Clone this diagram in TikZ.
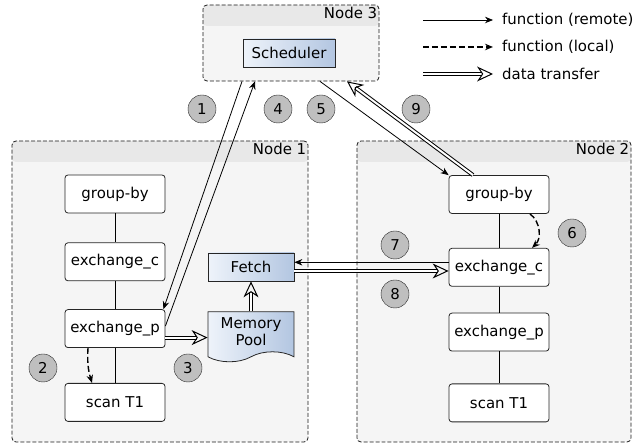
\documentclass[tikz,border=0pt]{standalone}
\usepackage{fontspec}
\setmainfont{DejaVu Sans}
\usetikzlibrary{positioning,arrows.meta,shapes.symbols}

\definecolor{bluelight}{HTML}{EEF3FA}
\definecolor{bluedark}{HTML}{B3C6E1}

\begin{document}
\begin{tikzpicture}[
    x=1bp, y=1bp,
    font=\fontsize{15}{17.5}\selectfont,
    container/.style={draw=black!90, dash pattern=on 4pt off 2pt, rounded corners=4pt, fill=black!4, line width=0.8pt,
        path picture={\fill[black!9] (path picture bounding box.north west) rectangle ([yshift=-21bp]path picture bounding box.north east);}},
    op/.style={rectangle, draw=black!85, fill=white, rounded corners=3pt, minimum width=100bp, minimum height=38bp, line width=0.8pt},
    service/.style={draw=black!85, left color=bluelight, right color=bluedark, line width=0.8pt},
    stepnum/.style={circle, draw=black!85, fill=black!25, minimum size=28bp, inner sep=0pt},
    remote/.style={-{Stealth[length=8pt,width=6.5pt]}, line width=0.8pt},
    local/.style={-{Stealth[length=8pt,width=6.5pt]}, dash pattern=on 6pt off 3pt, line width=1.4pt},
    data/.style={double, double distance=2bp, line width=1bp, -{Stealth[open,length=16pt,width=15pt,inset=5pt]}}
]
\useasboundingbox (0,0) rectangle (634,443);

% Machines
\node[container, minimum width=176bp, minimum height=76bp,
    label={[anchor=north east, inner sep=2pt]north east:Node 3}] (node3) at (291,400) {};
\node[container, minimum width=296bp, minimum height=301bp,
    label={[anchor=north east, inner sep=2pt]north east:Node 1}] (node1) at (160,151.5) {};
\node[container, minimum width=274bp, minimum height=301bp,
    label={[anchor=north east, inner sep=2pt]north east:Node 2}] (node2) at (494,151.5) {};

% Scheduler
\node[service, rectangle, minimum width=92bp, minimum height=28bp] (sched) at (289,390) {Scheduler};

% Plan on Node 1
\node[op] (gb1) at (115,249) {group-by};
\node[op, below=29bp of gb1] (ex1c) {exchange\_c};
\node[op, below=28bp of ex1c] (ex1p) {exchange\_p};
\node[op, below=35bp of ex1p] (scan1) {scan T1};

% Fetch and memory pool
\node[service, rectangle, minimum width=86bp, minimum height=28bp] (fetch) at (251,176) {Fetch};
\node[service, tape, tape bend top=none, tape bend bottom=in and out, tape bend height=10bp,
    minimum width=86bp, minimum height=50bp, align=center, inner sep=1pt, below=30bp of fetch] (pool) {Memory\\Pool};

% Plan on Node 2
\node[op] (gb2) at (499,248.5) {group-by};
\node[op, below=34bp of gb2] (ex2c) {exchange\_c};
\node[op, below=26bp of ex2c] (ex2p) {exchange\_p};
\node[op, below=32bp of ex2p] (scan2) {scan T1};

% Plan edges
\draw[line width=0.7pt] (gb1) -- (ex1c) (ex1c) -- (ex1p) (ex1p) -- (scan1);
\draw[line width=0.7pt] (gb2) -- (ex2c) (ex2c) -- (ex2p) (ex2p) -- (scan2);

% Steps
\node[stepnum] (s1) at (202,334) {1};
\node[stepnum] (s4) at (278,334) {4};
\node[stepnum] (s5) at (321,334) {5};
\node[stepnum] (s9) at (416,334) {9};
\node[stepnum] (s2) at (43,75) {2};
\node[stepnum] (s3) at (188,75) {3};
\node[stepnum] (s6) at (572,210) {6};
\node[stepnum] (s7) at (395,198) {7};
\node[stepnum] (s8) at (395,149) {8};

% Calls and transfers
\draw[remote] ([xshift=-49bp]node3.south) -- ([xshift=-2bp]ex1p.north east);
\draw[remote] ([yshift=2.5bp]ex1p.east) -- ([xshift=-36bp]node3.south);
\draw[local] ([xshift=-27bp]ex1p.south) to[bend right=10] ([xshift=-23bp]scan1.north);
\draw[data] ([yshift=-9bp]ex1p.east) -- ([yshift=-9bp]ex1p.east -| pool.west);
\draw[data] (pool.north) -- (fetch.south);
\draw[remote] ([xshift=29bp]node3.south) -- (gb2.north west);
\draw[local] ([xshift=31bp]gb2.south) to[bend left=50] ([xshift=33bp]ex2c.north);
\draw[remote] ([yshift=5bp]ex2c.west) -- ([yshift=5bp]ex2c.west -| fetch.east);
\draw[data] ([yshift=-4bp]fetch.east) -- ([yshift=-4bp]fetch.east -| ex2c.west);
\draw[data] ([xshift=-26bp]gb2.north) -- ([xshift=56bp]node3.south);

% Legend
\foreach \sty/\txt [count=\i] in {remote/function (remote), local/function (local), data/data transfer} {
    \coordinate (leg\i a) at (423,450-27*\i);
    \coordinate (leg\i b) at (493,450-27*\i);
    \draw[\sty] (leg\i a) -- (leg\i b);
    \node[anchor=west, inner sep=0pt] (legtxt\i) at ([xshift=9bp]leg\i b) {\txt};
}

\end{tikzpicture}
\end{document}
